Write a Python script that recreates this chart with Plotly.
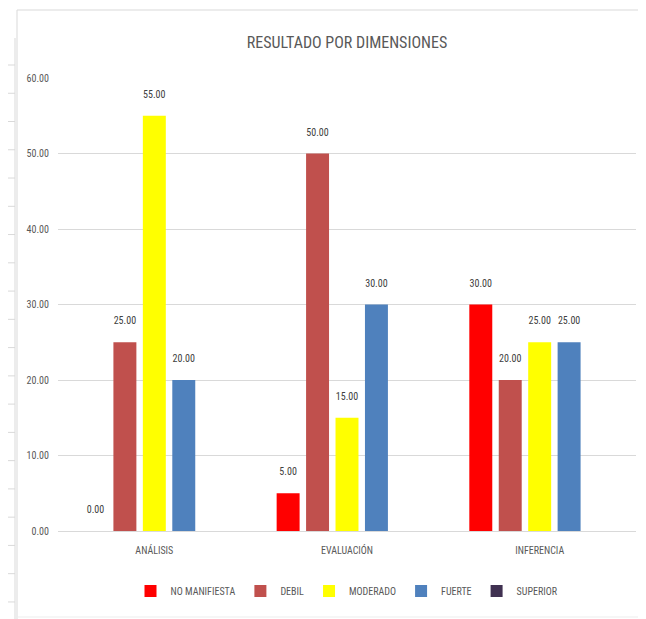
import plotly.graph_objects as go

categories = ["ANÁLISIS", "EVALUACIÓN", "INFERENCIA"]
series_names = ["NO MANIFIESTA", "DEBIL", "MODERADO", "FUERTE", "SUPERIOR"]
no_manifiesta = [0.0, 5.0, 30.0]
debil = [25.0, 50.0, 20.0]
moderado = [55.0, 15.0, 25.0]
fuerte = [20.0, 30.0, 25.0]
superior = [None, None, None]
y_ticks = [0, 10, 20, 30, 40, 50, 60]

colors = ["#FF0000", "#C0504D", "#FFFF00", "#4F81BD", "#403151"]
values = [no_manifiesta, debil, moderado, fuerte, superior]

FONT = "Liberation Sans Narrow, Roboto Condensed, Arial Narrow, Roboto, sans-serif"
TXT = "#595959"

fig = go.Figure()
for name, vals, col in zip(series_names, values, colors):
    fig.add_trace(go.Bar(
        x=categories, y=vals, name=name, marker_color=col,
        marker_line_width=0,
        text=[None if v is None else f"{v:.2f}<br> " for v in vals],
        textposition="outside", cliponaxis=False,
        textfont=dict(size=10, color="#404040", family=FONT),
    ))

OFF = 8  # page body offset
W, H = 646 - OFF, 619 - OFF
L, R, T, B = 58 - OFF, 10, 78 - OFF, 88
pw, ph = W - L - R, H - T - B

def px(x):
    return (x - OFF - L) / pw

def py(y):
    return (H - B - (y - OFF)) / ph

shapes = []
line_col = "#D9D9D9"
# chart frame
shapes.append(dict(type="line", xref="paper", yref="paper", x0=px(17), x1=px(17), y0=py(10), y1=py(619), line=dict(color=line_col, width=1)))
shapes.append(dict(type="line", xref="paper", yref="paper", x0=px(17), x1=px(646), y0=py(10), y1=py(10), line=dict(color=line_col, width=1)))
shapes.append(dict(type="line", xref="paper", yref="paper", x0=px(17), x1=px(646), y0=py(617), y1=py(617), line=dict(color="#EDEDED", width=1)))
# spreadsheet cell borders on the left
shapes.append(dict(type="line", xref="paper", yref="paper", x0=px(15), x1=px(15), y0=py(38), y1=py(619), line=dict(color=line_col, width=1)))
for k in range(20):
    yy = 65 + 28.26 * k
    shapes.append(dict(type="line", xref="paper", yref="paper", x0=px(8), x1=px(15), y0=py(yy), y1=py(yy), line=dict(color=line_col, width=1)))

fig.update_layout(
    width=W, height=H,
    margin=dict(l=L, r=R, t=T, b=B),
    paper_bgcolor="white", plot_bgcolor="white",
    barmode="group", bargap=0.236, bargroupgap=0.22,
    title=dict(text="RESULTADO POR DIMENSIONES", x=0.5, xref="paper", y=1 - (42 - OFF) / H, yanchor="middle",
               xanchor="center", font=dict(size=16, color=TXT, family=FONT)),
    font=dict(family=FONT, color=TXT, size=10),
    xaxis=dict(showline=True, linecolor=line_col, linewidth=1, ticks="", showgrid=False,
               tickfont=dict(size=10, color=TXT, family=FONT), ticklabelstandoff=10),
    yaxis=dict(range=[0, 60], tickvals=y_ticks, tickformat=".2f", showgrid=True, gridcolor=line_col,
               gridwidth=1, zeroline=False, showline=False, ticks="",
               tickfont=dict(size=10, color=TXT, family=FONT), ticklabelstandoff=8),
    legend=dict(orientation="h", x=0.5, xanchor="center", y=py(591), yanchor="middle",
                font=dict(size=10, color=TXT, family=FONT), itemwidth=30, traceorder="normal"),
    shapes=shapes,
    showlegend=True,
)

fig.write_html("out.html")
